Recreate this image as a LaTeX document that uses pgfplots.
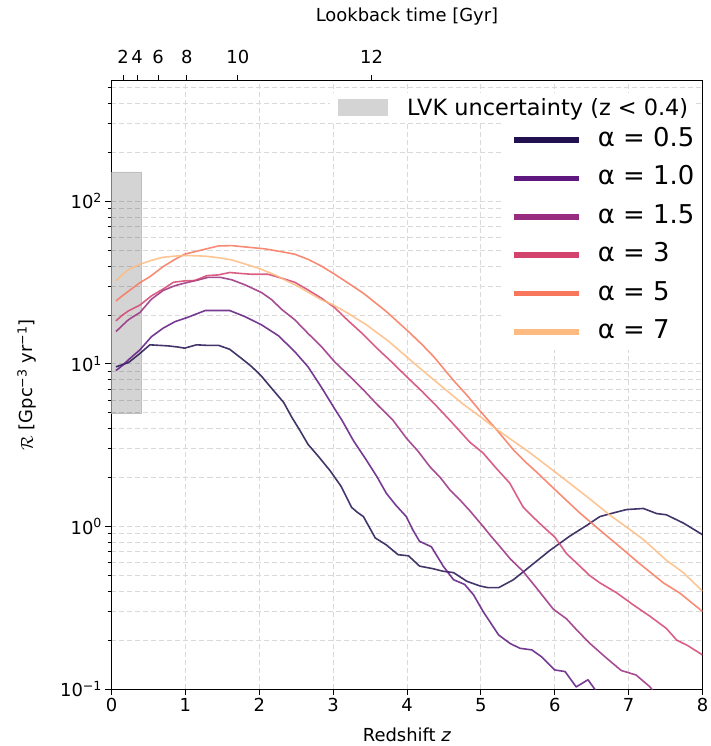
\documentclass[border=0pt]{standalone}
\usepackage{fontspec}
\setmainfont{DejaVu Sans}
\usepackage{pgfplots}
\pgfplotsset{compat=1.18}
\definecolor{c1}{HTML}{221150}
\definecolor{c2}{HTML}{5F187F}
\definecolor{c3}{HTML}{982D80}
\definecolor{c4}{HTML}{D3436E}
\definecolor{c5}{HTML}{F8765C}
\definecolor{c6}{HTML}{FEBB81}
\pgfplotsset{
  curve/.style={line width=1.6bp, opacity=0.85, line join=round},
}
\begin{document}
\begin{tikzpicture}
\useasboundingbox (-111.5bp,-57bp) rectangle (599.5bp,689bp);
\begin{axis}[
  at={(0,0)}, anchor=south west,
  width=591bp, height=608bp, scale only axis,
  xmin=0, xmax=8, ymode=log, ymin=0.1, ymax=550,
  xtick={0,1,2,3,4,5,6,7,8}, xticklabels={0,1,2,3,4,5,6,7,8},
  ytick={0.1,1,10,100},
  yticklabels={10\textsuperscript{−1},10\textsuperscript{0},10\textsuperscript{1},10\textsuperscript{2}},
  minor ytick={0.2,0.3,0.4,0.5,0.6,0.7,0.8,0.9,2,3,4,5,6,7,8,9,20,30,40,50,60,70,80,90,200,300,400,500},
  tick pos=left, tick align=outside,
  major tick length=6bp, minor tick length=3.5bp,
  tick style={black, line width=0.8bp},
  grid=both,
  major grid style={black!15, dash pattern=on 5bp off 3bp, line width=0.8bp},
  minor grid style={black!15, dash pattern=on 5bp off 3bp, line width=0.8bp},
  axis line style={line width=1bp},
  tick label style={font=\fontsize{18}{21}\selectfont},
  label style={font=\fontsize{18}{21}\selectfont},
  xlabel={Redshift \textit{z}},
  xlabel style={at={(axis description cs:0.5,0)}, yshift=-46bp, anchor=center},
  ylabel={$\mathcal{R}$ [Gpc\textsuperscript{−3} yr\textsuperscript{−1}]},
  ylabel style={at={(axis description cs:0,0.5)}, yshift=84.5bp, anchor=center},
  legend style={at={(1,0.745)}, anchor=east, draw=none, fill=white,
    inner xsep=8bp, inner ysep=6bp, font=\fontsize{26}{30}\selectfont,
    nodes={inner sep=0pt, text height=18bp, text depth=5bp}, row sep=15.4bp},
  legend cell align=left,
  legend image code/.code={\draw[line width=5.5bp, draw opacity=1] (0bp,0bp) -- (65bp,0bp); \path (83bp,0bp);},
]
\addplot[fill=black, fill opacity=0.17, draw=black!25, line width=0.5bp, forget plot]
  coordinates {(0,5) (0.4,5) (0.4,152) (0,152) (0,5)};

\addplot[curve, c1] coordinates {
(0.06,9.6) (0.15,9.9) (0.23,10.2) (0.3,10.8) (0.385,11.6) (0.52,13.1) (0.65,13.0) (0.77,12.9) (0.9,12.7) (0.99,12.5) (1.15,13.1) (1.3,13.0) (1.45,13.0) (1.6,12.3) (1.76,10.8) (1.9,9.6) (2.03,8.4) (2.2,6.8) (2.33,5.8) (2.44,4.7) (2.55,3.9) (2.66,3.2) (2.8,2.7) (2.96,2.2) (3.11,1.76) (3.25,1.31) (3.33,1.22) (3.41,1.15) (3.57,0.85) (3.72,0.77) (3.88,0.67) (4.02,0.66) (4.17,0.57) (4.35,0.55) (4.49,0.53) (4.63,0.52) (4.81,0.46) (4.99,0.43) (5.1,0.42) (5.24,0.42) (5.44,0.47) (5.67,0.57) (5.93,0.71) (6.2,0.87) (6.44,1.02) (6.61,1.15) (6.79,1.21) (6.97,1.27) (7.2,1.29) (7.38,1.2) (7.51,1.18) (7.74,1.05) (8.0,0.89)};
\addlegendentry{α = 0.5}

\addplot[curve, c2] coordinates {
(0.06,9.1) (0.15,9.8) (0.23,10.6) (0.3,11.3) (0.385,12.2) (0.54,14.7) (0.70,16.6) (0.86,18.2) (1.04,19.4) (1.15,20.3) (1.27,21.3) (1.45,21.3) (1.60,21.3) (1.81,19.5) (2.03,17.4) (2.26,14.9) (2.48,11.9) (2.66,9.6) (2.84,7.2) (3.02,5.3) (3.12,4.5) (3.27,3.4) (3.45,2.56) (3.6,2.0) (3.72,1.6) (3.85,1.35) (3.99,1.15) (4.08,0.95) (4.17,0.81) (4.33,0.75) (4.49,0.57) (4.63,0.47) (4.78,0.44) (4.9,0.38) (5.03,0.30) (5.24,0.215) (5.4,0.19) (5.53,0.178) (5.69,0.174) (5.82,0.158) (6.0,0.131) (6.14,0.128) (6.29,0.103) (6.45,0.114) (6.54,0.10) (6.65,0.088)};
\addlegendentry{α = 1.0}

\addplot[curve, c3] coordinates {
(0.06,15.8) (0.15,17.3) (0.23,18.7) (0.3,19.6) (0.385,20.7) (0.54,25) (0.70,28.3) (0.86,30.3) (0.99,31.4) (1.18,32.9) (1.31,34.1) (1.47,34.1) (1.63,32.9) (1.81,30.6) (2.03,27.5) (2.17,24.8) (2.30,21.7) (2.48,18.7) (2.66,15.4) (2.84,12.8) (3.02,10.3) (3.2,8.6) (3.4,7.0) (3.6,5.6) (3.81,4.5) (3.99,3.5) (4.15,2.9) (4.31,2.33) (4.45,2.0) (4.58,1.68) (4.72,1.45) (4.85,1.25) (5.03,1.0) (5.12,0.89) (5.26,0.75) (5.4,0.63) (5.57,0.53) (5.75,0.42) (5.98,0.31) (6.16,0.27) (6.3,0.23) (6.48,0.19) (6.7,0.155) (6.9,0.13) (7.1,0.122) (7.29,0.103) (7.35,0.095)};
\addlegendentry{α = 1.5}

\addplot[curve, c4] coordinates {
(0.06,18.4) (0.15,20.0) (0.23,21.2) (0.3,22) (0.385,23) (0.54,26.2) (0.70,28.9) (0.84,31.8) (0.99,32.4) (1.13,32.6) (1.29,34.9) (1.45,35.3) (1.60,36.5) (1.75,36.0) (1.90,35.6) (2.12,35.6) (2.30,33.7) (2.48,31.8) (2.66,28.5) (2.84,25.4) (3.02,22.2) (3.2,18.5) (3.4,15.3) (3.6,12.4) (3.8,10.2) (4.0,8.3) (4.2,6.8) (4.4,5.5) (4.6,4.4) (4.85,3.3) (5.03,2.83) (5.2,2.3) (5.39,1.85) (5.57,1.32) (5.7,1.15) (5.84,1.0) (6.0,0.86) (6.16,0.68) (6.34,0.57) (6.47,0.5) (6.61,0.45) (6.84,0.39) (7.06,0.33) (7.29,0.28) (7.51,0.236) (7.65,0.20) (7.8,0.185) (8.0,0.162)};
\addlegendentry{α = 3}

\addplot[curve, c5] coordinates {
(0.06,24.4) (0.15,26.3) (0.23,28) (0.385,31.6) (0.52,34.4) (0.70,39.7) (0.86,44) (0.99,47.3) (1.22,50.2) (1.45,53.2) (1.63,53.4) (1.85,52.2) (2.08,51) (2.30,49) (2.48,47.3) (2.66,44) (2.84,40) (3.0,36.1) (3.2,31.5) (3.41,27.2) (3.72,21) (4.02,15.8) (4.2,13.2) (4.36,11.1) (4.62,8.0) (4.8,6.5) (5.01,5.0) (5.2,4.0) (5.44,2.96) (5.6,2.5) (5.75,2.17) (6.03,1.64) (6.34,1.21) (6.61,0.95) (6.88,0.75) (7.15,0.59) (7.47,0.45) (7.69,0.39) (8.0,0.30)};
\addlegendentry{α = 5}

\addplot[curve, c6] coordinates {
(0.06,32.4) (0.15,35.5) (0.23,38) (0.385,41) (0.55,43.5) (0.70,45.3) (0.85,46) (0.99,46.5) (1.27,46) (1.45,45) (1.63,43.6) (1.99,38.8) (2.21,35.3) (2.53,29.9) (2.84,24.8) (3.0,23.1) (3.2,20.5) (3.45,17.4) (3.75,13.8) (4.02,10.8) (4.25,8.8) (4.53,6.9) (4.75,5.7) (5.0,4.7) (5.2,4.0) (5.44,3.35) (5.66,2.85) (6.03,2.12) (6.44,1.52) (6.75,1.17) (7.0,0.97) (7.2,0.83) (7.51,0.62) (7.74,0.52) (8.0,0.40)};
\addlegendentry{α = 7}
\end{axis}

\begin{axis}[
  at={(0,0)}, anchor=south west,
  width=591bp, height=608bp, scale only axis,
  xmin=0, xmax=8, ymin=0, ymax=1,
  axis x line*=top, hide y axis,
  xtick={0.156,0.345,0.63,1.02,1.71,3.52}, xticklabels={2,4,6,8,10,12},
  tick align=outside, major tick length=6bp,
  tick style={black, line width=0.8bp},
  axis line style={line width=1bp},
  tick label style={font=\fontsize{18}{21}\selectfont},
  xticklabel style={yshift=8bp},
  label style={font=\fontsize{18}{21}\selectfont},
  xlabel={Lookback time [Gyr]},
  xlabel style={at={(axis description cs:0.5,1)}, yshift=64bp, anchor=center},
  legend style={at={(0.3697,0.9564)}, anchor=west, draw=none, fill=white,
    inner xsep=8bp, inner ysep=5bp, font=\fontsize{22.5}{26}\selectfont,
    nodes={inner sep=0pt}},
  legend cell align=left,
  legend image code/.code={\fill[draw=none, black, fill opacity=0.17] (0bp,-8.5bp) rectangle (50bp,8.5bp); \path (69bp,0bp);},
]
\addlegendimage{draw=none}
\addlegendentry{LVK uncertainty (z < 0.4)}
\end{axis}
\end{tikzpicture}
\end{document}
